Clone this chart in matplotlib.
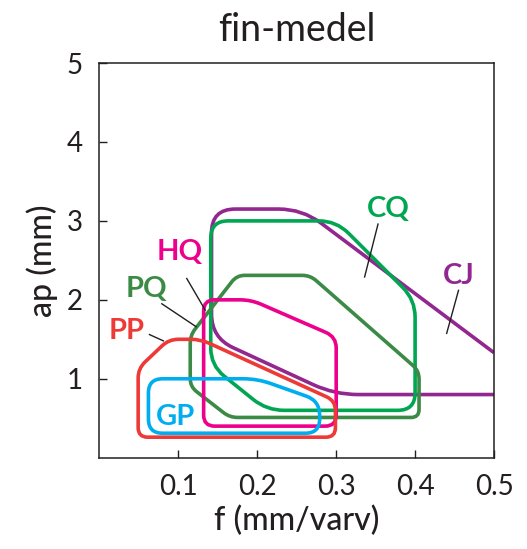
import numpy as np
import matplotlib
matplotlib.use("Agg")
import matplotlib.pyplot as plt
from matplotlib.path import Path
from matplotlib.patches import PathPatch

plt.rcParams['font.family'] = ['Lato', 'DejaVu Sans']

# region outlines, (f, ap) corners
gp_f = [0.062, 0.279, 0.279, 0.200, 0.062]
gp_ap = [0.31, 0.31, 0.72, 1.00, 1.00]

pp_f = [0.049, 0.299, 0.299, 0.128, 0.088, 0.049]
pp_ap = [0.26, 0.26, 0.72, 1.50, 1.50, 1.13]

hq_f = [0.132, 0.300, 0.300, 0.192, 0.132]
hq_ap = [0.40, 0.40, 1.53, 2.00, 2.00]

pq_f = [0.115, 0.165, 0.405, 0.405, 0.267, 0.174, 0.115]
pq_ap = [0.90, 0.51, 0.51, 1.10, 2.31, 2.31, 1.55]

cq_f = [0.141, 0.300, 0.400, 0.400, 0.212, 0.141]
cq_ap = [3.00, 3.00, 2.00, 0.60, 0.60, 1.17]

cj_f = [0.500, 0.298, 0.142, 0.142, 0.257, 0.500]
cj_ap = [0.80, 0.80, 1.52, 3.15, 3.15, 1.33]

labels = ['GP', 'PP', 'HQ', 'PQ', 'CQ', 'CJ']
label_f = [0.0958, 0.0347, 0.1011, 0.0591, 0.3663, 0.4556]
label_ap = [0.414, 1.50, 2.50, 2.04, 3.055, 2.195]
leader_f = [None, (0.0633, 0.081), (0.1106, 0.134), (0.079, 0.1224),
            (0.353, 0.336), (0.455, 0.440)]
leader_ap = [None, (1.56, 1.48), (2.27, 1.87), (1.95, 1.66),
             (2.96, 2.29), (2.12, 1.575)]

colors = {'GP': '#00AEEF', 'PP': '#EE3A37', 'HQ': '#EC008C',
          'PQ': '#3B8A45', 'CQ': '#00A651', 'CJ': '#92278F'}
radius = {'GP': 0.18, 'PP': 0.12, 'HQ': 0.14, 'PQ': 0.10, 'CQ': 0.22, 'CJ': 0.3}
ink = '#231F20'


def rounded(fs, aps, r, closed=True):
    # x and y share the same pixel scale once f is multiplied by 10
    pts = np.column_stack([np.asarray(fs) * 10, np.asarray(aps)])
    n = len(pts)
    verts, codes = [], []
    for i in range(n):
        if not closed and i in (0, n - 1):
            verts.append(pts[i])
            codes.append(Path.MOVETO if i == 0 else Path.LINETO)
            continue
        p0, p1, p2 = pts[i - 1], pts[i], pts[(i + 1) % n]
        l1 = np.linalg.norm(p0 - p1)
        l2 = np.linalg.norm(p2 - p1)
        rr = min(r, 0.45 * l1, 0.45 * l2)
        a = p1 + (p0 - p1) / l1 * rr
        b = p1 + (p2 - p1) / l2 * rr
        verts += [a, p1, b]
        codes += [Path.MOVETO if not verts[:-3] else Path.LINETO,
                  Path.CURVE3, Path.CURVE3]
    if closed:
        verts.append(verts[0])
        codes.append(Path.CLOSEPOLY)
    verts = np.array(verts)
    verts[:, 0] /= 10
    return Path(verts, codes)


fig = plt.figure(figsize=(5.27, 5.49), dpi=100)
ax = fig.add_axes([0.1888, 0.1663, 0.7486, 0.7189])

shapes = [('CJ', cj_f, cj_ap, False), ('CQ', cq_f, cq_ap, True),
          ('PQ', pq_f, pq_ap, True), ('HQ', hq_f, hq_ap, True),
          ('GP', gp_f, gp_ap, True), ('PP', pp_f, pp_ap, True)]
for name, fs, aps, closed in shapes:
    path = rounded(fs, aps, radius[name], closed)
    ax.add_patch(PathPatch(path, fill=False, edgecolor=colors[name],
                           lw=2.6, joinstyle='round', capstyle='butt'))

for i, name in enumerate(labels):
    ax.text(label_f[i], label_ap[i], name, color=colors[name], fontsize=21,
            fontweight='bold', ha='center', va='baseline')
    if leader_f[i] is not None:
        ax.plot(leader_f[i], leader_ap[i], color=ink, lw=1.0)

ax.set_xlim(0, 0.5)
ax.set_ylim(0, 5)
ax.set_xticks([0.1, 0.2, 0.3, 0.4, 0.5])
ax.set_xticklabels(['0.1', '0.2', '0.3', '0.4', '0.5'])
ax.set_yticks([1, 2, 3, 4, 5])
ax.tick_params(direction='in', length=5.5, width=1.0, color=ink,
               labelsize=20, labelcolor=ink, pad=12)
for s in ax.spines.values():
    s.set_color(ink)
    s.set_linewidth(1.1)

ax.set_title('fin-medel', fontsize=27, fontweight='normal', color=ink, pad=16)
ax.set_xlabel('f (mm/varv)', fontsize=23, fontweight='medium', color=ink,
              labelpad=4)
ax.set_ylabel('ap (mm)', fontsize=23, fontweight='medium', color=ink,
              labelpad=6)

fig.savefig('out.png', dpi=100)
